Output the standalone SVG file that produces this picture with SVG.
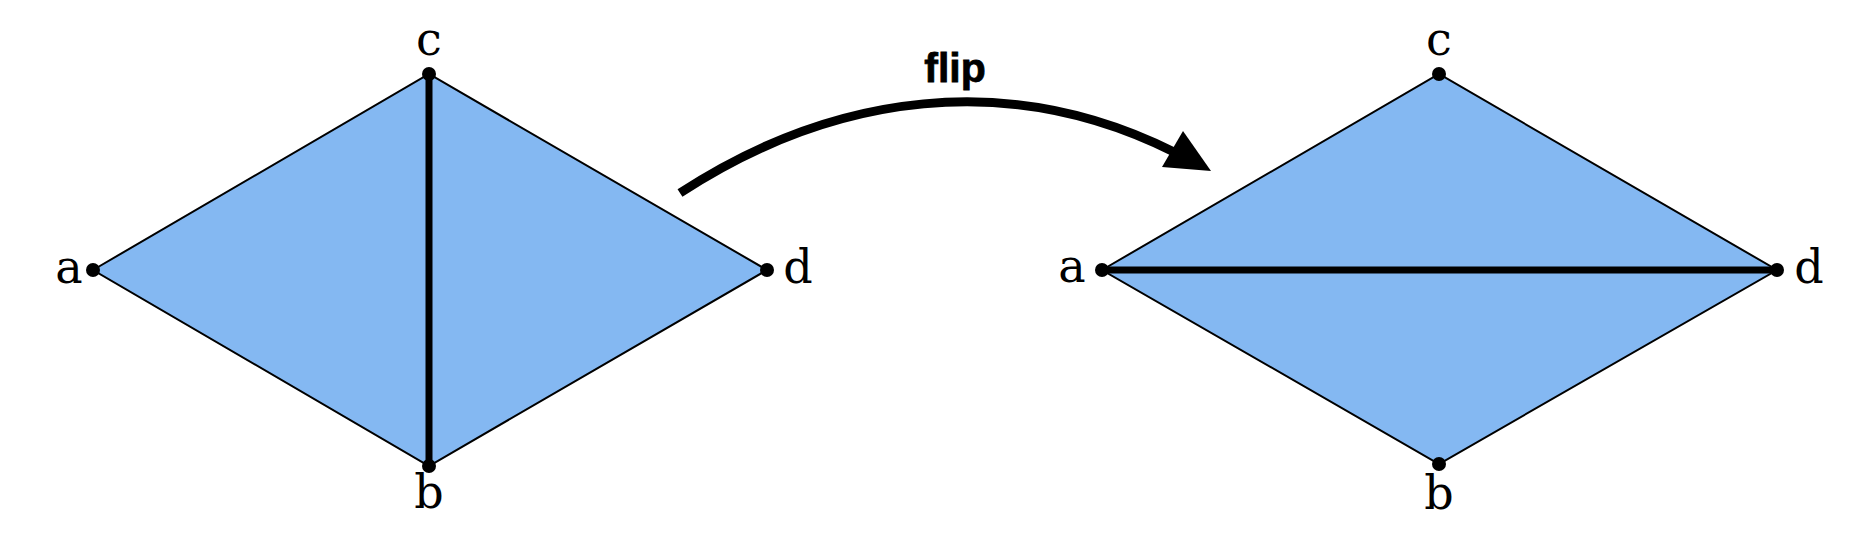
<svg xmlns="http://www.w3.org/2000/svg" width="1874" height="544" viewBox="0 0 1874 544">
  <style>
    .face { fill: #84b8f2; stroke: #000; stroke-width: 2; stroke-linejoin: miter; }
    .diag { stroke: #000; stroke-width: 7; stroke-linecap: butt; fill: none; }
    .dot { fill: #000; }
    .lbl { font-family: "DejaVu Serif", "Liberation Serif", serif; font-size: 46px; fill: #000; text-anchor: middle; }
    .flip { font-family: "Liberation Sans", Arial, sans-serif; font-weight: bold; font-size: 41px; fill: #000; stroke: #000; stroke-width: 0.8; text-anchor: middle; }
    .arrow { stroke: #000; stroke-width: 9; fill: none; }
  </style>
  <rect width="1874" height="544" fill="#ffffff"/>

  <g id="mesh-before">
    <polygon class="face" points="93,270 429,74 767,270 429,466"/>
    <line class="diag" x1="429" y1="74" x2="429" y2="466"/>
    <g id="before-a"><circle class="dot" cx="93" cy="270" r="7"/><text class="lbl" x="69" y="283">a</text></g>
    <g id="before-c"><circle class="dot" cx="429" cy="74" r="7"/><text class="lbl" x="429" y="55">c</text></g>
    <g id="before-d"><circle class="dot" cx="767" cy="270" r="7"/><text class="lbl" x="798" y="283">d</text></g>
    <g id="before-b"><circle class="dot" cx="429" cy="466" r="7"/><text class="lbl" x="429" y="508">b</text></g>
  </g>

  <g id="mesh-after">
    <polygon class="face" points="1102,270 1439,74 1777,270 1439,464"/>
    <line class="diag" x1="1102" y1="270" x2="1777" y2="270"/>
    <g id="after-a"><circle class="dot" cx="1102" cy="270" r="7"/><text class="lbl" x="1072" y="282">a</text></g>
    <g id="after-c"><circle class="dot" cx="1439" cy="74" r="7"/><text class="lbl" x="1439" y="55">c</text></g>
    <g id="after-d"><circle class="dot" cx="1777" cy="270" r="7"/><text class="lbl" x="1809" y="283">d</text></g>
    <g id="after-b"><circle class="dot" cx="1439" cy="464" r="7"/><text class="lbl" x="1439" y="509">b</text></g>
  </g>

  <g id="connectors">
    <path class="arrow" d="M680,193 C835,92 1010,70 1174,152"/>
    <polygon fill="#000" points="1211,171 1183,131 1162,167"/>
    <text class="flip" x="955" y="82">flip</text>
  </g>
</svg>
